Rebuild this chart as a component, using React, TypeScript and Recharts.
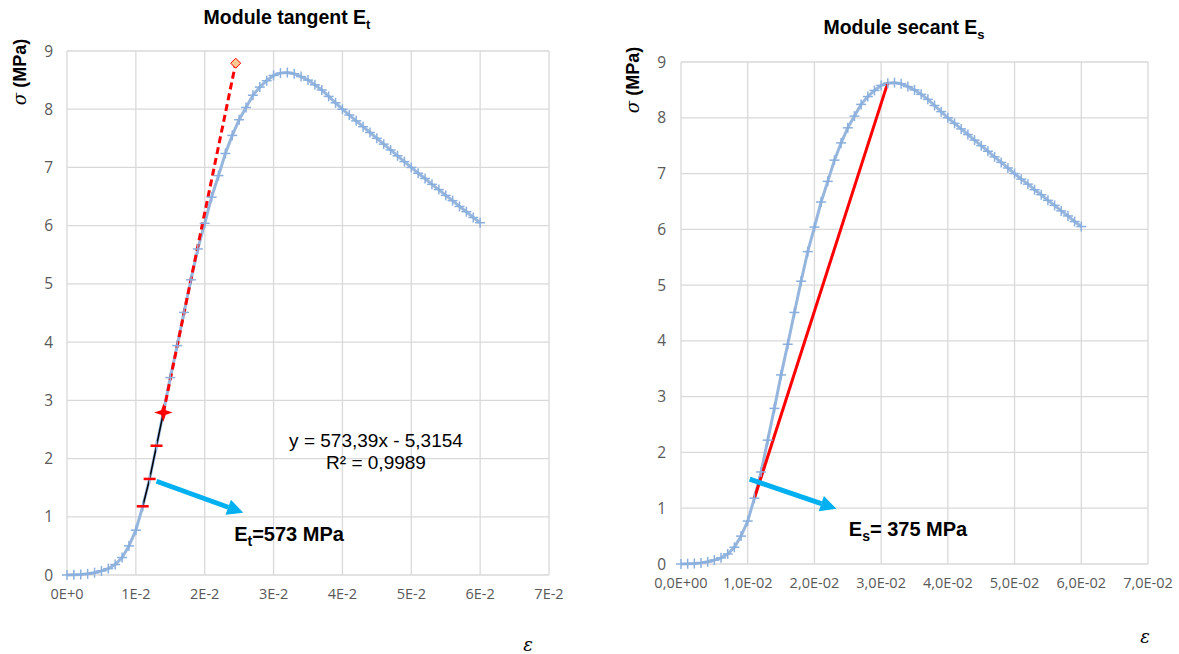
import React from "react";
import { LineChart, Line, XAxis, YAxis, CartesianGrid, ReferenceLine } from "recharts";

// strain (ε) and stress σ (MPa)
const strain = [
  0, 0.001, 0.002, 0.003, 0.004, 0.005, 0.006, 0.007, 0.008, 0.009,
  0.01, 0.011, 0.012, 0.013, 0.014, 0.015, 0.016, 0.017, 0.018, 0.019,
  0.02, 0.021, 0.022, 0.023, 0.024, 0.025, 0.026, 0.027, 0.028, 0.029,
  0.03, 0.031, 0.032, 0.033, 0.034, 0.035, 0.036, 0.037, 0.038, 0.039,
  0.04, 0.041, 0.042, 0.043, 0.044, 0.045, 0.046, 0.047, 0.048, 0.049,
  0.05, 0.051, 0.052, 0.053, 0.054, 0.055, 0.056, 0.057, 0.058, 0.059,
  0.06,
];
const stress = [
  0, 0.005, 0.01, 0.02, 0.04, 0.07, 0.11, 0.18, 0.3, 0.5,
  0.77, 1.18, 1.65, 2.22, 2.79, 3.39, 3.94, 4.51, 5.07, 5.6,
  6.04, 6.49, 6.86, 7.24, 7.55, 7.82, 8.03, 8.24, 8.38, 8.49,
  8.58, 8.62, 8.63, 8.61, 8.56, 8.5, 8.42, 8.33, 8.22, 8.11,
  8.0, 7.9, 7.8, 7.7, 7.6, 7.5, 7.4, 7.3, 7.2, 7.1,
  7.0, 6.9, 6.81, 6.71, 6.62, 6.52, 6.43, 6.33, 6.24, 6.14,
  6.05,
];

// points used for the linear fit (tangent modulus)
const fitStrain = [0.011, 0.012, 0.013, 0.014];
const fitStress = [1.18, 1.65, 2.22, 2.79];

// trend line extension y = 573,39x - 5,3154
const tangentStrain = [0.014, 0.0245];
const tangentStress = [2.79, 8.79];

// secant from start of linear part to the peak
const secantStrain = [0.011, 0.031];
const secantStress = [1.18, 8.63];

// annotation arrows (start -> tip)
const leftArrowStrain = [0.013, 0.0256];
const leftArrowStress = [1.61, 1.07];
const rightArrowStrain = [0.0103, 0.0233];
const rightArrowStress = [1.52, 0.99];

const xTicks = [0, 0.01, 0.02, 0.03, 0.04, 0.05, 0.06, 0.07];
const yTicks = [0, 1, 2, 3, 4, 5, 6, 7, 8, 9];
const leftTickLabels = ["0E+0", "1E-2", "2E-2", "3E-2", "4E-2", "5E-2", "6E-2", "7E-2"];
const rightTickLabels = ["0,0E+00", "1,0E-02", "2,0E-02", "3,0E-02", "4,0E-02", "5,0E-02", "6,0E-02", "7,0E-02"];

const zip = (xs: number[], ys: number[]) => xs.map((x, i) => ({ x, y: ys[i] }));

const curveData = zip(strain, stress);
const fitData = zip(fitStrain, fitStress);
const tangentData = zip(tangentStrain, tangentStress);
const secantData = zip(secantStrain, secantStress);

const BLUE = "#97B6DE";
const MARK = "#8AAFDD";
const GRID = "#d9d9d9";
const TICK = "#595959";
const FONT = "'Liberation Sans', Arial, sans-serif";
const TICKFONT = "'Open Sans', sans-serif";

const xTick = (labels: string[]) => (props: any) => {
  const { x, y, payload } = props;
  return (
    <text x={x} y={y} dy="0.75em" textAnchor="middle" fill={TICK} fontSize={14.5} fontFamily={TICKFONT}>
      {labels[xTicks.indexOf(payload.value)] ?? ""}
    </text>
  );
};

const yTick = (props: any) => {
  const { x, y, payload } = props;
  return (
    <text x={x} y={y} dy="0.36em" textAnchor="end" fill={TICK} fontSize={15.5} fontFamily={TICKFONT}>
      {payload.value}
    </text>
  );
};

const PlusDot = (props: any) => {
  const { cx, cy, index } = props;
  if (cx == null || cy == null) return <g key={`p-${index}`} />;
  return (
    <g key={`p-${index}`}>
      <line x1={cx - 5} y1={cy} x2={cx + 5} y2={cy} stroke={MARK} strokeWidth={1.5} />
      <line x1={cx} y1={cy - 5} x2={cx} y2={cy + 5} stroke={MARK} strokeWidth={1.5} />
    </g>
  );
};

const FitDot = (props: any) => {
  const { cx, cy, index } = props;
  if (index === fitStrain.length - 1) {
    return (
      <path
        key={`f-${index}`}
        d={`M${cx},${cy - 6} L${cx + 1.5},${cy - 1.5} L${cx + 6},${cy} L${cx + 1.5},${cy + 1.5} L${cx},${cy + 6} L${cx - 1.5},${cy + 1.5} L${cx - 6},${cy} L${cx - 1.5},${cy - 1.5} Z`}
        fill="#FF0000"
        stroke="#FF0000"
        strokeWidth={2}
      />
    );
  }
  return <line key={`f-${index}`} x1={cx - 6} y1={cy} x2={cx + 6} y2={cy} stroke="#FF0000" strokeWidth={2.5} />;
};

const TangentDot = (props: any) => {
  const { cx, cy, index } = props;
  if (index !== tangentStrain.length - 1) return <g key={`t-${index}`} />;
  return (
    <path
      key={`t-${index}`}
      d={`M${cx},${cy - 5} L${cx + 5},${cy} L${cx},${cy + 5} L${cx - 5},${cy} Z`}
      fill="#FAC98F"
      stroke="#FF0000"
      strokeWidth={1}
    />
  );
};

const ArrowShape = (props: any) => {
  const { x1, y1, x2, y2 } = props;
  if ([x1, y1, x2, y2].some((v) => v == null || isNaN(v))) return <g />;
  const a = Math.atan2(y2 - y1, x2 - x1);
  const len = 16;
  const half = 8;
  const bx = x2 - len * Math.cos(a);
  const by = y2 - len * Math.sin(a);
  const px = -Math.sin(a) * half;
  const py = Math.cos(a) * half;
  return (
    <g>
      <line x1={x1} y1={y1} x2={bx} y2={by} stroke="#00B0F0" strokeWidth={5} />
      <polygon points={`${x2},${y2} ${bx + px},${by + py} ${bx - px},${by - py}`} fill="#00B0F0" />
    </g>
  );
};

const abs = (x: number, y: number, style: React.CSSProperties = {}): React.CSSProperties => ({
  position: "absolute",
  left: x,
  top: y,
  transform: "translate(-50%, -50%)",
  whiteSpace: "nowrap",
  fontFamily: FONT,
  ...style,
});

const yLabel = (x: number, y: number) => (
  <div style={abs(x, y, { transform: "translate(-50%, -50%) rotate(-90deg)", fontWeight: "bold", fontSize: 18 })}>
    <span style={{ fontStyle: "italic", fontFamily: "'DejaVu Serif', serif", fontWeight: "normal" }}>σ</span> (MPa)
  </div>
);

export default function App() {
  return (
    <div style={{ position: "absolute", left: 0, top: 0, width: 1179, height: 654, background: "#fff", overflow: "hidden" }}>
      {/* left: tangent modulus */}
      <div style={{ position: "absolute", left: 0, top: 0 }}>
        <LineChart width={590} height={654} margin={{ top: 51, right: 41, bottom: 0, left: 0 }}>
          <CartesianGrid stroke={GRID} strokeWidth={1.3} />
          <XAxis
            type="number"
            dataKey="x"
            domain={[0, 0.07]}
            ticks={xTicks}
            height={79}
            axisLine={false}
            tickLine={false}
            tickMargin={7}
            tick={xTick(leftTickLabels)}
          />
          <YAxis
            type="number"
            dataKey="y"
            domain={[0, 9]}
            ticks={yTicks}
            width={67}
            axisLine={false}
            tickLine={false}
            tickMargin={8}
            tick={yTick}
          />
          <Line data={curveData} dataKey="y" stroke={BLUE} strokeWidth={3} dot={PlusDot} isAnimationActive={false} />
          <Line data={tangentData} dataKey="y" stroke="#FF0000" strokeWidth={3} strokeDasharray="7 4" dot={TangentDot} isAnimationActive={false} />
          <Line data={fitData} dataKey="y" stroke="#000000" strokeWidth={1.5} dot={FitDot} isAnimationActive={false} />
          <ReferenceLine
            segment={[
              { x: leftArrowStrain[0], y: leftArrowStress[0] },
              { x: leftArrowStrain[1], y: leftArrowStress[1] },
            ]}
            shape={ArrowShape}
          />
        </LineChart>
      </div>

      {/* right: secant modulus */}
      <div style={{ position: "absolute", left: 600, top: 0 }}>
        <LineChart width={579} height={654} margin={{ top: 62, right: 31, bottom: 0, left: 0 }}>
          <CartesianGrid stroke={GRID} strokeWidth={1.3} />
          <XAxis
            type="number"
            dataKey="x"
            domain={[0, 0.07]}
            ticks={xTicks}
            height={90}
            axisLine={false}
            tickLine={false}
            tickMargin={7}
            tick={xTick(rightTickLabels)}
          />
          <YAxis
            type="number"
            dataKey="y"
            domain={[0, 9]}
            ticks={yTicks}
            width={81}
            axisLine={false}
            tickLine={false}
            tickMargin={9}
            tick={yTick}
          />
          <Line data={curveData} dataKey="y" stroke={BLUE} strokeWidth={3} dot={PlusDot} isAnimationActive={false} />
          <Line data={secantData} dataKey="y" stroke="#FF0000" strokeWidth={3} dot={false} isAnimationActive={false} />
          <ReferenceLine
            segment={[
              { x: rightArrowStrain[0], y: rightArrowStress[0] },
              { x: rightArrowStrain[1], y: rightArrowStress[1] },
            ]}
            shape={ArrowShape}
          />
        </LineChart>
      </div>

      {/* titles */}
      <div style={abs(287, 19, { fontWeight: "bold", fontSize: 19.5 })}>
        Module tangent E<sub style={{ fontSize: 13 }}>t</sub>
      </div>
      <div style={abs(904, 29, { fontWeight: "bold", fontSize: 19.5 })}>
        Module secant E<sub style={{ fontSize: 13 }}>s</sub>
      </div>

      {/* axis titles */}
      {yLabel(20, 72)}
      {yLabel(633, 80)}
      <div style={abs(528, 644, { fontFamily: "'DejaVu Serif', serif", fontStyle: "italic", fontSize: 18 })}>ε</div>
      <div style={abs(1145, 636, { fontFamily: "'DejaVu Serif', serif", fontStyle: "italic", fontSize: 18 })}>ε</div>

      {/* trend line equation */}
      <div style={abs(376, 452, { fontSize: 19, textAlign: "center", lineHeight: "22px" })}>
        y = 573,39x - 5,3154
        <br />
        R² = 0,9989
      </div>

      {/* modulus annotations */}
      <div style={abs(289, 536, { fontWeight: "bold", fontSize: 20 })}>
        E<sub style={{ fontSize: 14 }}>t</sub>=573 MPa
      </div>
      <div style={abs(908, 531, { fontWeight: "bold", fontSize: 20 })}>
        E<sub style={{ fontSize: 14 }}>s</sub>= 375 MPa
      </div>
    </div>
  );
}
